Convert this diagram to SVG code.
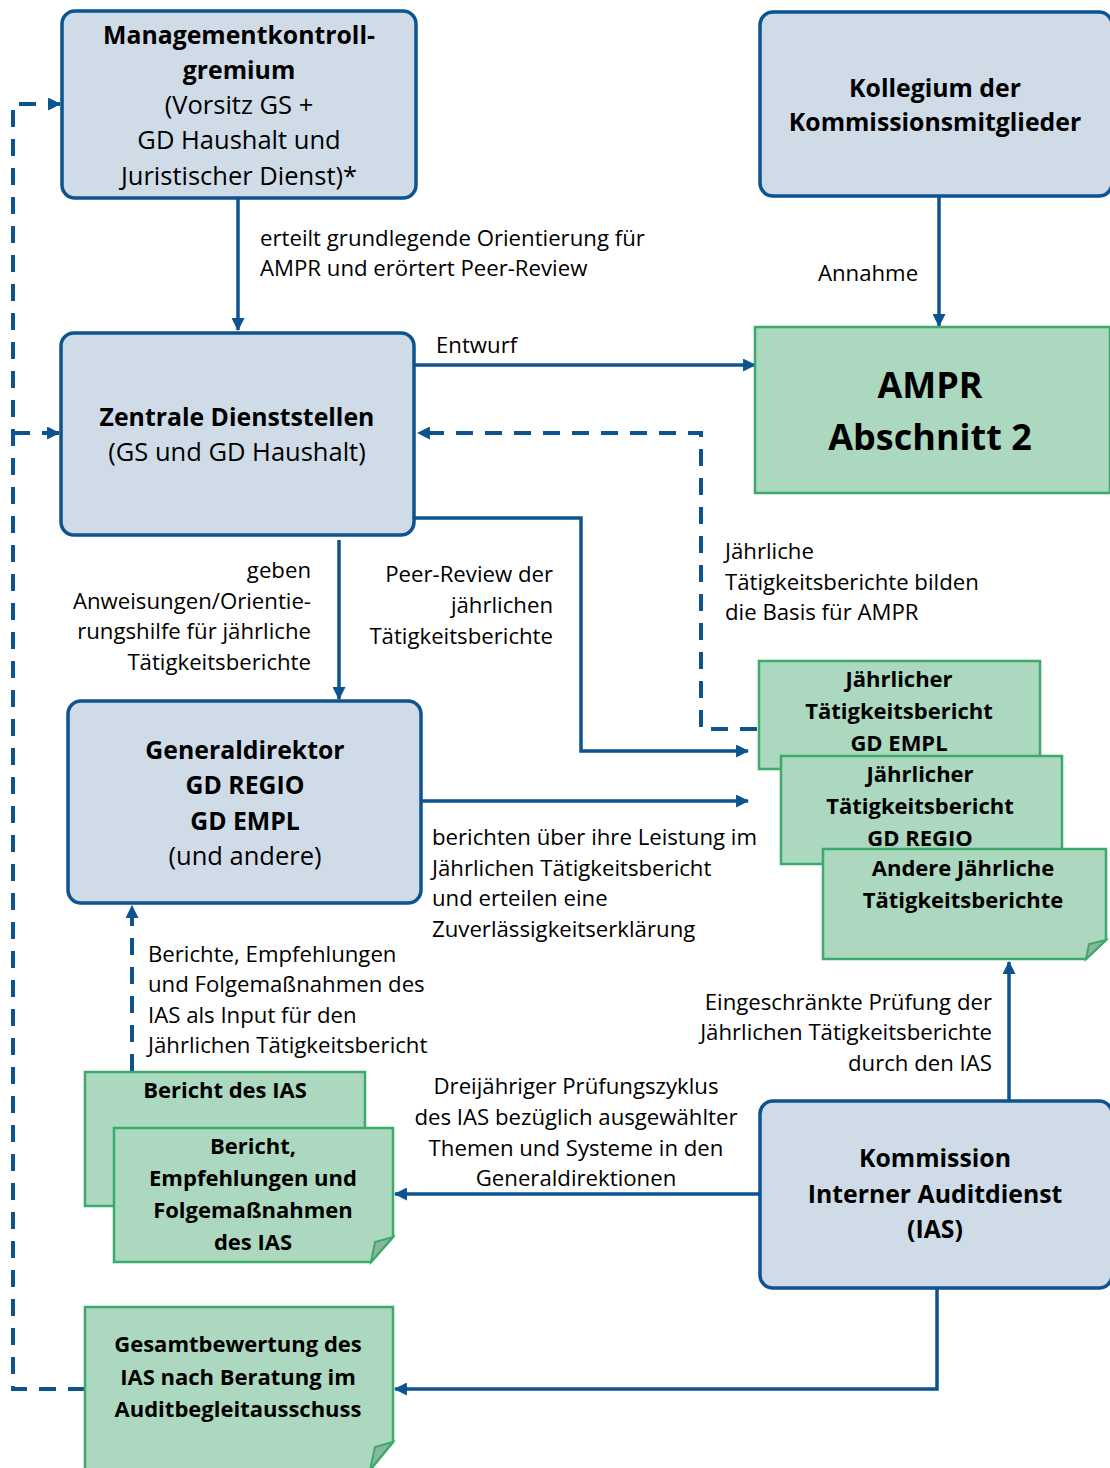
<svg xmlns="http://www.w3.org/2000/svg" width="1110" height="1468" viewBox="0 0 1110 1468">
<defs>
<style>
text{font-family:"Open Sans","Liberation Sans",sans-serif;fill:#000}
.box{fill:#cfdbe6;stroke:#0c5390;stroke-width:3.5}
.doc{fill:#acd8bf;stroke:#3aab6a;stroke-width:2.5}
.fold{fill:#8db49e;stroke:#3aab6a;stroke-width:2}
.t{font-size:25.5px;text-anchor:middle}
.b{font-weight:bold;font-size:24.8px}
.d{font-size:22px;font-weight:bold;text-anchor:middle}
.l{font-size:22.2px}
.ln{fill:none;stroke:#0c5390;stroke-width:3.5}
.da{fill:none;stroke:#0c5390;stroke-width:4;stroke-dasharray:17 12}
</style>
<marker id="ah" viewBox="0 0 12 12" refX="11" refY="6" markerWidth="13" markerHeight="13" markerUnits="userSpaceOnUse" orient="auto">
<path d="M0,0 L12,6 L0,12 Z" fill="#0c5390"/>
</marker>
</defs>
<rect width="1110" height="1468" fill="#fff"/>

<g id="connectors">
<path class="ln" d="M238,198 V330" marker-end="url(#ah)"/>
<path class="ln" d="M939,196 V326" marker-end="url(#ah)"/>
<path class="ln" d="M414,365 H755" marker-end="url(#ah)"/>
<path class="da" d="M757,729 H701 V433 H418" marker-end="url(#ah)"/>
<path class="ln" d="M414,518 H581 V751 H748" marker-end="url(#ah)"/>
<path class="ln" d="M339,540 V699" marker-end="url(#ah)"/>
<path class="ln" d="M421,801 H748" marker-end="url(#ah)"/>
<path class="da" d="M132,1071 V906" marker-end="url(#ah)"/>
<path class="ln" d="M1009,1100 V962" marker-end="url(#ah)"/>
<path class="ln" d="M760,1194 H395" marker-end="url(#ah)"/>
<path class="ln" d="M937,1288 V1389 H395" marker-end="url(#ah)"/>
<path class="da" d="M85,1389 H13 V104 H60" marker-end="url(#ah)"/>
<path class="da" d="M13,433 H59" marker-end="url(#ah)"/>
</g>

<g id="labels">
<text class="l" x="260" y="246">erteilt grundlegende Orientierung für</text>
<text class="l" x="260" y="276">AMPR und erörtert Peer-Review</text>
<text class="l" x="868" y="281" text-anchor="middle">Annahme</text>
<text class="l" x="436" y="353">Entwurf</text>
<text class="l" text-anchor="end"><tspan x="553" y="582">Peer-Review der</tspan><tspan x="553" y="613">jährlichen</tspan><tspan x="553" y="644">Tätigkeitsberichte</tspan></text>
<text class="l" text-anchor="end"><tspan x="311" y="578">geben</tspan><tspan x="311" y="609">Anweisungen/Orientie-</tspan><tspan x="311" y="639">rungshilfe für jährliche</tspan><tspan x="311" y="670">Tätigkeitsberichte</tspan></text>
<text class="l"><tspan x="725" y="559">Jährliche</tspan><tspan x="725" y="590">Tätigkeitsberichte bilden</tspan><tspan x="725" y="620">die Basis für AMPR</tspan></text>
<text class="l"><tspan x="432" y="845">berichten über ihre Leistung im</tspan><tspan x="432" y="876">Jährlichen Tätigkeitsbericht</tspan><tspan x="432" y="906">und erteilen eine</tspan><tspan x="432" y="937">Zuverlässigkeitserklärung</tspan></text>
<text class="l"><tspan x="148" y="962">Berichte, Empfehlungen</tspan><tspan x="148" y="992">und Folgemaßnahmen des</tspan><tspan x="148" y="1023">IAS als Input für den</tspan><tspan x="148" y="1053">Jährlichen Tätigkeitsbericht</tspan></text>
<text class="l" text-anchor="end"><tspan x="992" y="1010">Eingeschränkte Prüfung der</tspan><tspan x="992" y="1040">Jährlichen Tätigkeitsberichte</tspan><tspan x="992" y="1071">durch den IAS</tspan></text>
<text class="l" text-anchor="middle"><tspan x="576" y="1094">Dreijähriger Prüfungszyklus</tspan><tspan x="576" y="1125">des IAS bezüglich ausgewählter</tspan><tspan x="576" y="1156">Themen und Systeme in den</tspan><tspan x="576" y="1186">Generaldirektionen</tspan></text>
</g>

<g id="mkg">
<rect class="box" x="62" y="11" width="354" height="187" rx="13"/>
<text class="t"><tspan class="b" x="239" y="44">Managementkontroll-</tspan><tspan class="b" x="239" y="79">gremium</tspan><tspan x="239" y="114">(Vorsitz GS +</tspan><tspan x="239" y="149">GD Haushalt und</tspan><tspan x="239" y="185">Juristischer Dienst)*</tspan></text>
</g>

<g id="kollegium">
<rect class="box" x="760" y="12" width="352" height="184" rx="13"/>
<text class="t b"><tspan x="935" y="97">Kollegium der</tspan><tspan x="935" y="131">Kommissionsmitglieder</tspan></text>
</g>

<g id="zentrale">
<rect class="box" x="61" y="333" width="353" height="202" rx="13"/>
<text class="t"><tspan class="b" x="237" y="426">Zentrale Dienststellen</tspan><tspan x="237" y="461">(GS und GD Haushalt)</tspan></text>
</g>

<g id="ampr">
<rect class="doc" x="755" y="327" width="355" height="166"/>
<text font-size="36" font-weight="bold" text-anchor="middle"><tspan x="930" y="398">AMPR</tspan><tspan x="930" y="450">Abschnitt 2</tspan></text>
</g>

<g id="generaldirektor">
<rect class="box" x="68" y="701" width="353" height="202" rx="13"/>
<text class="t"><tspan class="b" x="245" y="759">Generaldirektor</tspan><tspan class="b" x="245" y="794">GD REGIO</tspan><tspan class="b" x="245" y="830">GD EMPL</tspan><tspan x="245" y="865">(und andere)</tspan></text>
</g>

<g id="jtb-empl">
<rect class="doc" x="759" y="661" width="281" height="108"/>
<text class="d"><tspan x="899" y="687">Jährlicher</tspan><tspan x="899" y="719">Tätigkeitsbericht</tspan><tspan x="899" y="751">GD EMPL</tspan></text>
</g>

<g id="jtb-regio">
<rect class="doc" x="781" y="756" width="281" height="108"/>
<text class="d"><tspan x="920" y="782">Jährlicher</tspan><tspan x="920" y="814">Tätigkeitsbericht</tspan><tspan x="920" y="846">GD REGIO</tspan></text>
</g>

<g id="jtb-andere">
<path class="doc" d="M823,849 H1106 V940 L1086,959 H823 Z"/>
<path class="fold" d="M1106,940 L1089,944 L1086,959 Z"/>
<text class="d"><tspan x="963" y="876">Andere Jährliche</tspan><tspan x="963" y="908">Tätigkeitsberichte</tspan></text>
</g>

<g id="bericht-ias">
<rect class="doc" x="85" y="1072" width="280" height="134"/>
<text class="d" x="225" y="1098">Bericht des IAS</text>
</g>

<g id="bericht-empf">
<path class="doc" d="M114,1128 H393 V1237 L371,1262 H114 Z"/>
<path class="fold" d="M393,1237 L375,1242 L371,1262 Z"/>
<text class="d"><tspan x="253" y="1154">Bericht,</tspan><tspan x="253" y="1186">Empfehlungen und</tspan><tspan x="253" y="1218">Folgemaßnahmen</tspan><tspan x="253" y="1250">des IAS</tspan></text>
</g>

<g id="ias">
<rect class="box" x="760" y="1101" width="352" height="187" rx="13"/>
<text class="t b"><tspan x="935" y="1167">Kommission</tspan><tspan x="935" y="1203">Interner Auditdienst</tspan><tspan x="935" y="1238">(IAS)</tspan></text>
</g>

<g id="gesamtbewertung">
<path class="doc" d="M85,1307 H393 V1442 L370,1470 H85 Z"/>
<path class="fold" d="M393,1442 L375,1447 L370,1470 Z"/>
<text class="d"><tspan x="238" y="1352">Gesamtbewertung des</tspan><tspan x="238" y="1385">IAS nach Beratung im</tspan><tspan x="238" y="1417">Auditbegleitausschuss</tspan></text>
</g>
</svg>
